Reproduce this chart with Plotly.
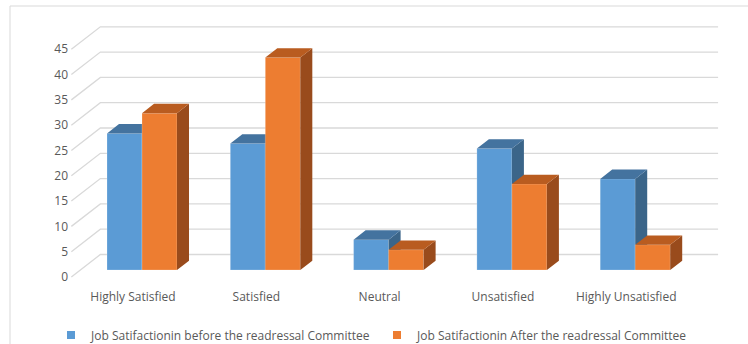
import plotly.graph_objects as go

# ---------------- data ----------------
categories = ["Highly Satisfied", "Satisfied", "Neutral", "Unsatisfied", "Highly Unsatisfied"]
before = [27, 25, 6, 24, 18]
after = [31, 42, 4, 17, 5]
series_names = ["Job Satifactionin before the readressal Committee",
                "Job Satifactionin After the readressal Committee"]
y_ticks = [0, 5, 10, 15, 20, 25, 30, 35, 40, 45]

# ---------------- style / geometry ----------------
W, H = 748, 344
PX_CAT = 123.3          # px per category
PX_VAL = 5.06           # px per value unit
X0_PX = 142             # px position of category 0 centre (bar plane)
Y0_PX = 270             # px position of value 0 (bar plane)
DEPTH_X = 29 / PX_CAT   # full depth offset (cat units)
DEPTH_Y = 22.5 / PX_VAL # full depth offset (value units)
BF, BB = 0.31, 0.724    # bar front/back depth fractions
BAR_W = 35 / PX_CAT
WALL = (-0.5, 4.51)

x_range = [(0 - X0_PX) / PX_CAT, (W - X0_PX) / PX_CAT]
y_range = [(Y0_PX - H) / PX_VAL, Y0_PX / PX_VAL]

FRONT = {"blue": "#5B9BD5", "orange": "#ED7D31"}
TOP = {"blue": "#44739F", "orange": "#B95C20"}
SIDE = {"blue": "#3B6589", "orange": "#994B1C"}
GRID = "#D9D9D9"
TXT = "#595959"
FONT = "Open Sans"
FS = 12


def pt(xc, v, d):
    return xc + (d - BF) * DEPTH_X, v + (d - BF) * DEPTH_Y


fig = go.Figure()

# gridlines (side wall diagonals + back wall)
gx, gy = [], []
for v in y_ticks:
    a = pt(WALL[0], v, 0)
    b = pt(WALL[0], v, 1)
    c = pt(WALL[1], v, 1)
    gx += [a[0], b[0], c[0], None]
    gy += [a[1], b[1], c[1], None]
fig.add_trace(go.Scatter(x=gx, y=gy, mode="lines", line=dict(color=GRID, width=1.3),
                         hoverinfo="skip", showlegend=False, xaxis="x", yaxis="y"))

# legend entries
for name, col in zip(series_names, ["blue", "orange"]):
    fig.add_trace(go.Scatter(x=[None], y=[None], mode="markers", name=name,
                             marker=dict(symbol="square", size=8, color=FRONT[col]),
                             xaxis="x", yaxis="y"))

# bars
dx = (BB - BF) * DEPTH_X
dy = (BB - BF) * DEPTH_Y
for k, (vals, col, off, ax) in enumerate([(before, "blue", -BAR_W, "2"), (after, "orange", 0.0, "3")]):
    xs = list(range(len(categories)))
    fig.add_trace(go.Bar(x=xs, y=vals, base=0, offset=off, width=BAR_W,
                         marker=dict(color=FRONT[col], line=dict(color="rgba(255,255,255,0.35)", width=0.6)),
                         showlegend=False, hoverinfo="skip",
                         xaxis="x" + ax, yaxis="y" + ax))
    tx, ty, sx, sy = [], [], [], []
    for i, v in enumerate(vals):
        x0 = i + off
        x1 = x0 + BAR_W
        tx += [x0, x0 + dx, x1 + dx, x1, x0, None]
        ty += [v, v + dy, v + dy, v, v, None]
        sx += [x1, x1 + dx, x1 + dx, x1, x1, None]
        sy += [0, dy, v + dy, v, 0, None]
    fig.add_trace(go.Scatter(x=sx, y=sy, mode="lines", fill="toself", fillcolor=SIDE[col],
                             line=dict(width=0), hoverinfo="skip", showlegend=False,
                             xaxis="x" + ax, yaxis="y" + ax))
    fig.add_trace(go.Scatter(x=tx, y=ty, mode="lines", fill="toself", fillcolor=TOP[col],
                             line=dict(width=0), hoverinfo="skip", showlegend=False,
                             xaxis="x" + ax, yaxis="y" + ax))

hidden = dict(visible=False, showgrid=False, zeroline=False, fixedrange=True)
fig.update_layout(
    width=W, height=H,
    margin=dict(l=0, r=0, t=0, b=0, autoexpand=False),
    paper_bgcolor="white", plot_bgcolor="white",
    barmode="overlay",
    font=dict(family=FONT, size=FS, color=TXT),
    xaxis=dict(range=x_range, showgrid=False, zeroline=False, showline=False, ticks="",
               tickvals=[i - BF * DEPTH_X for i in range(len(categories))], ticktext=categories,
               anchor="free", position=1 - 288 / H, tickfont=dict(family=FONT, size=FS, color=TXT),
               fixedrange=True, automargin=False),
    yaxis=dict(range=y_range, showgrid=False, zeroline=False, showline=False, ticks="",
               tickvals=[v - BF * DEPTH_Y for v in y_ticks], ticktext=[str(v) for v in y_ticks],
               anchor="free", position=68 / W, tickfont=dict(family=FONT, size=FS, color=TXT),
               fixedrange=True, automargin=False),
    xaxis2=dict(range=x_range, overlaying="x", anchor="y2", **hidden),
    yaxis2=dict(range=y_range, overlaying="y", anchor="x2", **hidden),
    xaxis3=dict(range=x_range, overlaying="x", anchor="y3", **hidden),
    yaxis3=dict(range=y_range, overlaying="y", anchor="x3", **hidden),
    legend=dict(orientation="h", x=51 / W, xanchor="left", y=(H - 335) / H, yanchor="middle",
                font=dict(family=FONT, size=FS, color=TXT), bgcolor="rgba(0,0,0,0)",
                entrywidth=281, entrywidthmode="pixels", itemwidth=30),
    shapes=[dict(type="rect", xref="paper", yref="paper", x0=10 / W, x1=1.05, y0=-0.05, y1=1 - 6 / H,
                 line=dict(color=GRID, width=1), fillcolor="rgba(0,0,0,0)", layer="below")],
)

fig.write_html("out.html")
